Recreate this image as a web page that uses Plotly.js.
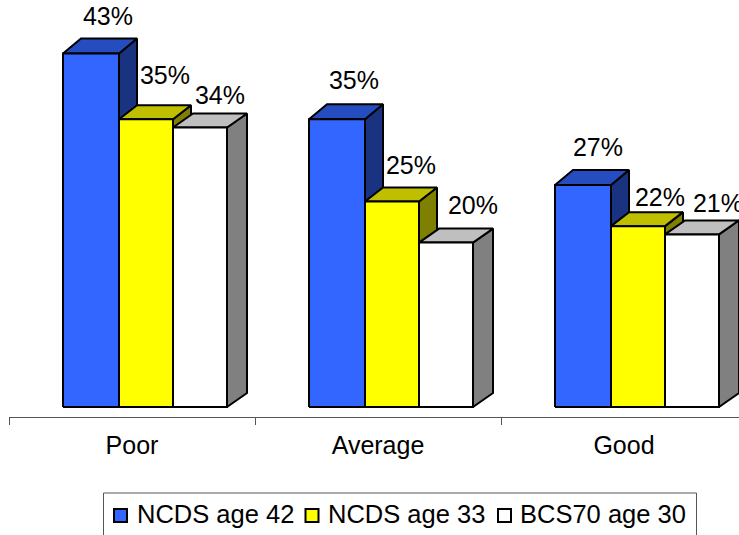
<!DOCTYPE html>
<html>
<head>
<meta charset="utf-8">
<script src="https://cdn.plot.ly/plotly-3.0.1.min.js"></script>
<style>html,body{margin:0;padding:0;background:#fff;overflow:hidden}</style>
</head>
<body>
<div id="chart" style="width:739px;height:535px"></div>
<script>
// ---- data ----
var categories = ['Poor', 'Average', 'Good'];
var seriesNames = ['NCDS age 42', 'NCDS age 33', 'BCS70 age 30'];
var ncds42 = [43, 35, 27];
var ncds33 = [35, 25, 22];
var bcs70 = [34, 20, 21];

// ---- styling ----
var frontColors = ['#3366FF', '#FFFF00', '#FFFFFF'];
var topColors = ['#264DBF', '#BFBF00', '#BFBFBF'];
var sideColors = ['#1A3380', '#808000', '#808080'];
var FONT = 'Liberation Sans, Arial, sans-serif';
var FS = 25;
var PX_X = 246, PX_Y = 8.22;
var LEFT = 9, BASE_PX = 407, AXIS_PX = 417, PAGE_H = 535, PLOT_W = 730;
// bar edges relative to category centre (category units)
var edges = [-69 / PX_X, -13 / PX_X, 41 / PX_X, 95 / PX_X];
var depthX = [18 / PX_X, 18 / PX_X, 20 / PX_X];
var depthY = [15 / PX_Y, 14 / PX_Y, 14 / PX_Y];
// label nudges from the bar-front top centre (px), per series then category
var nudgeX = [[17, 17, 15], [19, 19, 22], [20, 27, 26]];
var nudgeY = [[35, 37, 35], [42, 34, 26], [30, 35, 29]];
// hand-built legend placement (page px)
var legendBox = [103.5, 696.5, 493, 545];
var legendMarkerX = [120.5, 312, 504.5];
var legendTextX = [136, 327, 519];
var legendMarkerY = 515.5, legendTextY = 514;

var values = [ncds42, ncds33, bcs70];
var traces = [];

function poly(xs, ys, color) {
  return {
    type: 'scatter', mode: 'lines', x: xs, y: ys, fill: 'toself', fillcolor: color,
    line: {color: '#000', width: 2, shape: 'linear'}, hoverinfo: 'skip', showlegend: false
  };
}
function paperX(px) { return (px - LEFT) / PLOT_W; }
function paperY(py) { return (PAGE_H - py) / PAGE_H; }
function dataX(px) { return -0.5 + (px - LEFT) / PX_X; }
function dataY(py) { return (BASE_PX - py) / PX_Y; }

categories.forEach(function (c, ci) {
  values.forEach(function (vals, si) {
    var x0 = ci + edges[si], x1 = ci + edges[si + 1], v = vals[ci];
    var dx = depthX[si], dy = depthY[si];
    traces.push(poly([x1, x1 + dx, x1 + dx, x1, x1], [0, dy, v + dy, v, 0], sideColors[si]));
    traces.push(poly([x0, x1, x1 + dx, x0 + dx, x0], [v, v, v + dy, v + dy, v], topColors[si]));
    traces.push(poly([x0, x1, x1, x0, x0], [0, 0, v, v, 0], frontColors[si]));
  });
});

// value labels
var lx = [], ly = [], lt = [];
values.forEach(function (vals, si) {
  vals.forEach(function (v, ci) {
    lx.push(ci + (edges[si] + edges[si + 1]) / 2 + nudgeX[si][ci] / PX_X);
    ly.push(v + nudgeY[si][ci] / PX_Y);
    lt.push(v + '%');
  });
});
traces.push({
  type: 'scatter', mode: 'text', x: lx, y: ly, text: lt, textposition: 'middle center',
  textfont: {family: FONT, size: FS, color: '#000'}, hoverinfo: 'skip', showlegend: false, cliponaxis: false
});

// legend swatches
traces.push({
  type: 'scatter', mode: 'markers', cliponaxis: false, hoverinfo: 'skip', showlegend: false,
  x: legendMarkerX.map(dataX), y: legendMarkerX.map(function () { return dataY(legendMarkerY); }),
  marker: {symbol: 'square', size: 13, color: frontColors, line: {color: '#000', width: 2}}
});

var legendLabels = seriesNames.map(function (n, si) {
  return {
    xref: 'paper', yref: 'paper', x: paperX(legendTextX[si]), y: paperY(legendTextY),
    xanchor: 'left', yanchor: 'middle', showarrow: false, text: n,
    font: {family: FONT, size: 25.5, color: '#000'}, borderpad: 0
  };
});

var layout = {
  width: 739, height: PAGE_H,
  margin: {l: LEFT, r: 0, t: 0, b: 0, pad: 0, autoexpand: false},
  paper_bgcolor: '#fff', plot_bgcolor: '#fff',
  font: {family: FONT, color: '#000', size: FS},
  showlegend: false,
  xaxis: {
    range: [-0.5, -0.5 + PLOT_W / PX_X], tickmode: 'array', tickvals: [0, 1, 2], ticktext: categories,
    anchor: 'free', position: (PAGE_H - AXIS_PX) / PAGE_H,
    ticks: '', showgrid: false, zeroline: false, showline: true, linecolor: '#555', linewidth: 1,
    tickfont: {family: FONT, size: FS, color: '#000'}, fixedrange: true,
    minor: {tickmode: 'array', tickvals: [-0.5, 0.5, 1.5, 2.5], ticks: 'outside', ticklen: 7, tickwidth: 1, tickcolor: '#555', showgrid: false},
    ticklabelstandoff: 6
  },
  yaxis: {
    range: [(BASE_PX - PAGE_H) / PX_Y, BASE_PX / PX_Y], visible: false, showgrid: false, zeroline: false, fixedrange: true
  },
  shapes: [{
    type: 'rect', xref: 'paper', yref: 'paper', layer: 'below',
    x0: paperX(legendBox[0]), x1: paperX(legendBox[1]), y0: paperY(legendBox[2]), y1: paperY(legendBox[3]),
    line: {color: '#555', width: 1}, fillcolor: '#fff'
  }],
  annotations: legendLabels
};
Plotly.newPlot('chart', traces, layout, {displayModeBar: false, staticPlot: true});
</script>
</body>
</html>
